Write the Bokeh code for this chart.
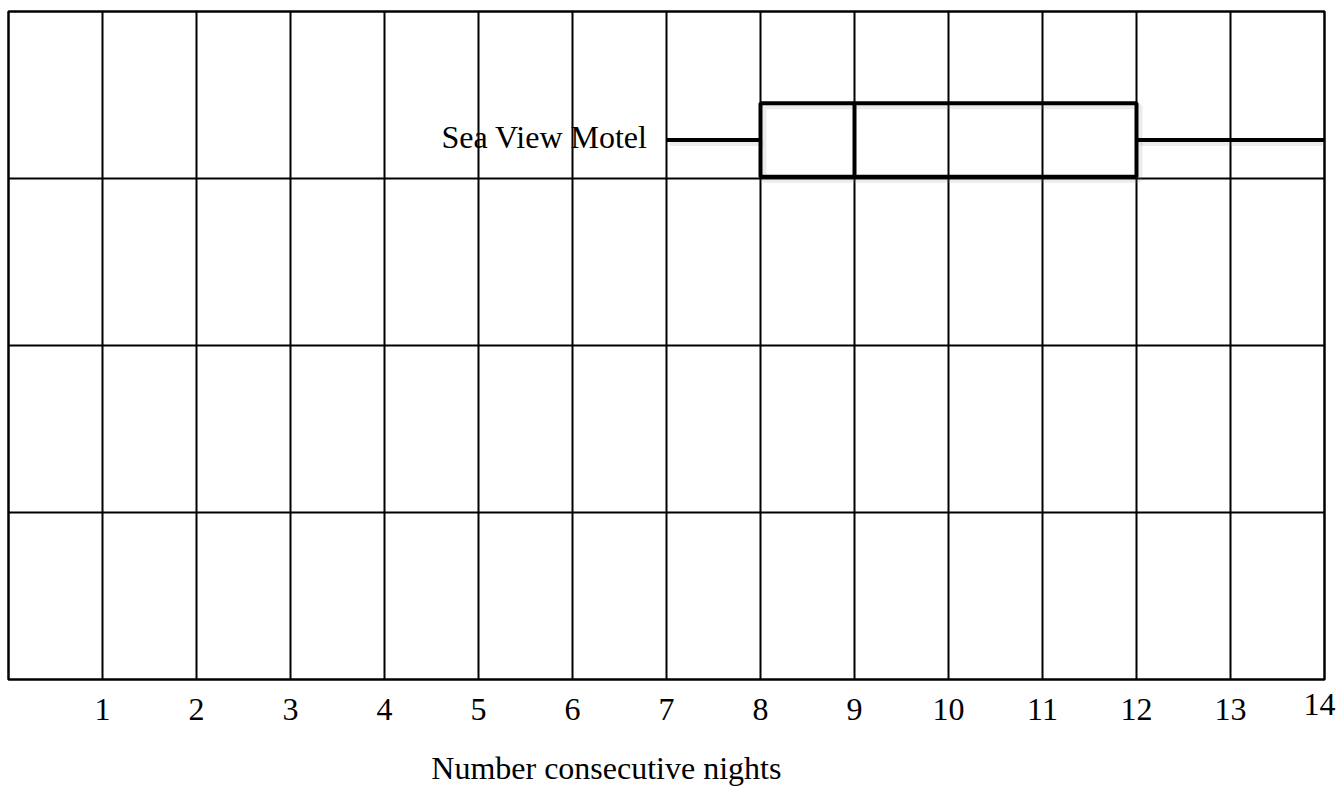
from bokeh.plotting import figure
from bokeh.models import Range1d
from bokeh.core.properties import value
from bokeh.embed import file_html
from bokeh.resources import INLINE

# ---- data ----
categories = ["Sea View Motel"]
mins = [7]
q1s = [8]
medians = [9]
q3s = [12]
maxs = [14]
tick_values = list(range(1, 15))
tick_labels = [str(v) for v in tick_values]
x_title = "Number consecutive nights"
x_lo, x_hi = 0, 14
y_lo, y_hi = 0, 4

# ---- layout constants ----
W, H = 1338, 786
PX_X, PX_Y = 94, 167          # pixels per unit
LEFT_PAD, RIGHT_PAD = 8, 14    # pixels beside the grid
TOP_PAD, BOTTOM_PAD = 11, 107  # pixels above / below the grid
row_center = 3.23
box_half = 0.22
FONT = "Liberation Serif"

p = figure(width=W, height=H, output_backend="svg", toolbar_location=None,
           x_range=Range1d(x_lo - LEFT_PAD / PX_X, x_hi + RIGHT_PAD / PX_X),
           y_range=Range1d(y_lo - BOTTOM_PAD / PX_Y, y_hi + TOP_PAD / PX_Y),
           min_border=0, x_axis_location=None, y_axis_location=None)
p.grid.visible = False
p.outline_line_color = None
p.background_fill_color = "white"
p.border_fill_color = "white"

# grid
vx = list(range(x_lo + 1, x_hi))
p.segment(x0=vx, y0=[y_lo] * len(vx), x1=vx, y1=[y_hi] * len(vx), line_color="black", line_width=2)
hy = list(range(y_lo + 1, y_hi))
p.segment(x0=[x_lo] * len(hy), y0=hy, x1=[x_hi] * len(hy), y1=hy, line_color="black", line_width=2)
p.quad(left=[x_lo], right=[x_hi], bottom=[y_lo], top=[y_hi], fill_color=None, line_color="black", line_width=2.5)

# tick labels
p.text(x=tick_values[:-1], y=[y_lo] * (len(tick_values) - 1), text=tick_labels[:-1], y_offset=30,
       text_align="center", text_baseline="alphabetic",
       text_font=value(FONT), text_font_size="32px", text_color="black")
p.text(x=tick_values[-1:], y=[y_lo], text=tick_labels[-1:], x_offset=-5, y_offset=25,
       text_align="center", text_baseline="alphabetic",
       text_font=value(FONT), text_font_size="32px", text_color="black")

# axis title
p.text(x=[6.36], y=[y_lo], text=[x_title], y_offset=88,
       text_align="center", text_baseline="alphabetic",
       text_font=value(FONT), text_font_size="32px", text_color="black")

ys = [row_center] * len(categories)
bots = [row_center - box_half] * len(categories)
tops = [row_center + box_half] * len(categories)

# soft shadow
dx, dy = 3 / PX_X, 3 / PX_Y
p.segment(x0=[m + dx for m in mins], y0=[y - dy for y in ys], x1=[q + dx for q in q1s], y1=[y - dy for y in ys],
          line_color="gray", line_alpha=0.15, line_width=6)
p.segment(x0=[q + dx for q in q3s], y0=[y - dy for y in ys], x1=[m for m in maxs], y1=[y - dy for y in ys],
          line_color="gray", line_alpha=0.15, line_width=6)
p.quad(left=[q + dx for q in q1s], right=[q + dx for q in q3s], bottom=[b - dy for b in bots], top=[t - dy for t in tops],
       fill_color=None, line_color="gray", line_alpha=0.15, line_width=6)

# box plot
p.segment(x0=mins, y0=ys, x1=q1s, y1=ys, line_color="black", line_width=4)
p.segment(x0=q3s, y0=ys, x1=maxs, y1=ys, line_color="black", line_width=4)
p.quad(left=q1s, right=q3s, bottom=bots, top=tops, fill_color=None, line_color="black", line_width=4)
p.segment(x0=medians, y0=bots, x1=medians, y1=tops, line_color="black", line_width=4)

p.text(x=mins, y=ys, text=categories, x_offset=-19, y_offset=-3,
       text_align="right", text_baseline="middle",
       text_font=value(FONT), text_font_size="32px", text_color="black")

open("out.html", "w").write(file_html(p, INLINE))
